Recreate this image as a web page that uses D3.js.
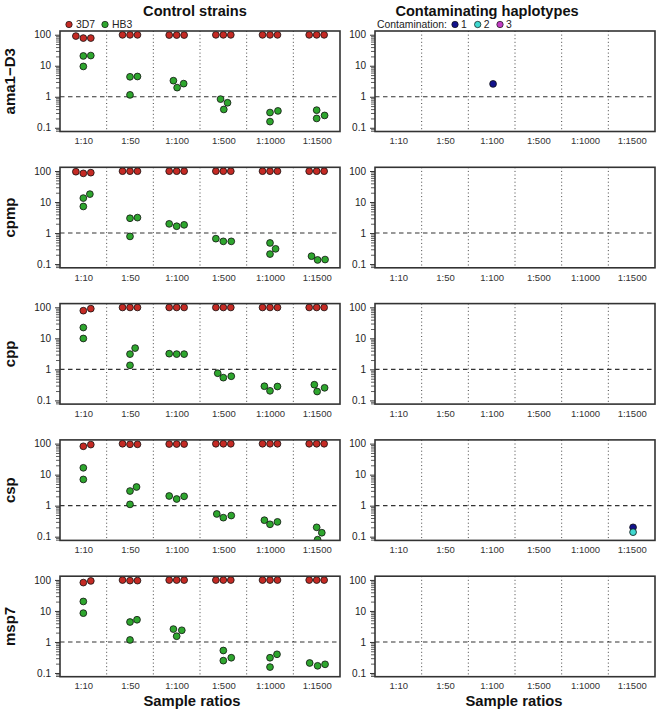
<!DOCTYPE html>
<html><head><meta charset="utf-8">
<script src="https://cdn.jsdelivr.net/npm/d3@7"></script>
<style>
body{margin:0;background:#fff;}
svg{display:block;font-family:"Liberation Sans",Arial,Helvetica,sans-serif;}
</style></head>
<body><svg id="chart" width="658" height="713"></svg>
<script>
// ---------- data ----------
const genes = ["ama1\u2212D3","cpmp","cpp","csp","msp7"];
const ratios = ["1:10","1:50","1:100","1:500","1:1000","1:1500"];
const panelTitles = ["Control strains","Contaminating haplotypes"];
const xTitle = "Sample ratios";
const yMajorTicks = [0.1,1,10,100];
const yTickLabels = ["0.1","1","10","100"];
const strainNames = ["3D7","HB3"];
const contamNames = ["1","2","3"];
const contamLabel = "Contamination:";

// each point: [ratio index, jitter (in category units), percentage]
const s3D7 = {
  "ama1\u2212D3": [[0,-.16,90.6],[0,0,78],[0,.16,78],[1,-.16,99],[1,0,99],[1,.16,99],[2,-.16,97.5],[2,0,97.5],[2,.16,97.5],[3,-.16,99],[3,0,99],[3,.16,99],[4,-.16,99],[4,0,99],[4,.16,99],[5,-.16,99],[5,0,99],[5,.16,99]],
  "cpmp": [[0,-.16,95],[0,0,84],[0,.16,88.5],[1,-.16,99],[1,0,99],[1,.16,99],[2,-.16,99],[2,0,99],[2,.16,99],[3,-.16,99],[3,0,99],[3,.16,99],[4,-.16,99],[4,0,99],[4,.16,99],[5,-.16,99],[5,0,99],[5,.16,99]],
  "cpp": [[0,0,78],[0,.16,90.6],[1,-.16,99],[1,0,99],[1,.16,99],[2,-.16,99],[2,0,99],[2,.16,99],[3,-.16,99],[3,0,99],[3,.16,99],[4,-.16,99],[4,0,99],[4,.16,99],[5,-.16,99],[5,0,99],[5,.16,99]],
  "csp": [[0,0,82],[0,.16,93],[1,-.16,99],[1,0,95],[1,.16,95],[2,-.16,97],[2,0,97],[2,.16,97],[3,-.16,99],[3,0,99],[3,.16,99],[4,-.16,99],[4,0,99],[4,.16,99],[5,-.16,99],[5,0,99],[5,.16,99]],
  "msp7": [[0,0,82],[0,.16,93],[1,-.16,99],[1,0,95],[1,.16,95],[2,-.16,99],[2,0,99],[2,.16,99],[3,-.16,99],[3,0,99],[3,.16,99],[4,-.16,99],[4,0,99],[4,.16,99],[5,-.16,99],[5,0,99],[5,.16,99]]
};
const sHB3 = {
  "ama1\u2212D3": [[0,0,20.7],[0,.16,21.3],[0,0,9.5],[1,0,4.4],[1,.16,4.5],[1,0,1.15],[2,-.07,3.3],[2,.01,1.97],[2,.15,2.65],[3,-.06,0.84],[3,.09,0.64],[3,.01,0.39],[4,0,0.31],[4,.17,0.35],[4,0,0.158],[5,0,0.37],[5,.17,0.25],[5,0,0.2]],
  "cpmp": [[0,0,13.4],[0,.14,18],[0,0,7.2],[1,0,3.0],[1,.16,3.15],[1,0,0.78],[2,-.16,1.98],[2,0,1.66],[2,.16,1.84],[3,-.16,0.66],[3,0,0.54],[3,.17,0.54],[4,0,0.48],[4,.12,0.31],[4,0,0.21],[5,-.11,0.18],[5,.02,0.136],[5,.18,0.14]],
  "cpp": [[0,0,22.3],[0,0,9.9],[1,0,3.1],[1,.11,4.85],[1,0,1.35],[2,-.16,3.2],[2,0,3.1],[2,.16,3.1],[3,-.12,0.75],[3,0,0.54],[3,.17,0.6],[4,-.12,0.286],[4,0,0.203],[4,.16,0.28],[5,-.05,0.32],[5,.01,0.193],[5,.17,0.254]],
  "csp": [[0,0,16.6],[0,0,7.0],[1,0,2.96],[1,.14,4.0],[1,0,1.1],[2,-.16,2.05],[2,0,1.64],[2,.16,2.0],[3,-.14,0.54],[3,0,0.41],[3,.17,0.48],[4,-.12,0.34],[4,0,0.25],[4,.16,0.3],[5,0,0.2],[5,.11,0.134],[5,.02,0.08]],
  "msp7": [[0,0,20.2],[0,0,8.5],[1,0,4.4],[1,.15,5.2],[1,0,1.16],[2,-.07,2.6],[2,0,1.53],[2,.11,2.38],[3,0,0.53],[3,0,0.25],[3,.17,0.31],[4,0,0.31],[4,.15,0.4],[4,0,0.155],[5,-.15,0.21],[5,.02,0.17],[5,.18,0.19]]
};
// contaminating haplotypes: [ratio index, jitter, percentage, haplotype index]
const contam = {
  "ama1\u2212D3": [[2,.03,2.6,0]],
  "cpmp": [],
  "cpp": [],
  "csp": [[5,.03,0.2,0],[5,.03,0.14,1]],
  "msp7": []
};

// ---------- style / layout ----------
const strainColors = ["#c42a24","#2ea62e"];
const contamColors = ["#12128c","#3fd8cf","#c23cc2"];
const cols = [{x0:60,x1:340},{x0:375,x1:655}];
const top0 = 31, step = 136.3, ph = 100.5;
const R = 3.4;

const svg = d3.select("#chart");
const defs = svg.append("defs");

function drawPanel(gi, ci){
  const gene = genes[gi];
  const {x0,x1} = cols[ci];
  const top = top0 + gi*step, bot = top + ph;
  const x = d3.scaleLinear().domain([0.5, ratios.length+0.5]).range([x0,x1]);
  const y = d3.scaleLog().domain([Math.pow(10,-1-0.12), Math.pow(10,2+0.12)]).range([bot, top]);
  const g = svg.append("g");
  const cid = "clip"+gi+"_"+ci;
  defs.append("clipPath").attr("id",cid).append("rect")
    .attr("x",x0).attr("y",top).attr("width",x1-x0).attr("height",ph);

  // vertical dotted separators
  g.selectAll("line.sep").data(d3.range(1,ratios.length)).enter().append("line")
    .attr("x1",d=>x(d+0.5)).attr("x2",d=>x(d+0.5)).attr("y1",top).attr("y2",bot)
    .attr("stroke","#444").attr("stroke-width",1).attr("stroke-dasharray","1,2.6");
  // dashed line at 1
  g.append("line").attr("x1",x0).attr("x2",x1).attr("y1",y(1)).attr("y2",y(1))
    .attr("stroke","#333").attr("stroke-width",1.1).attr("stroke-dasharray","4.5,3.5");

  // y axis minor ticks
  const [dlo,dhi] = y.domain();
  const minor = [];
  for(let e=-2;e<=2;e++) for(let m=2;m<=9;m++){const v=m*Math.pow(10,e); if(v>=dlo&&v<=dhi) minor.push(v);}
  const minAx = g.append("g").attr("transform",`translate(${x0},0)`)
    .call(d3.axisLeft(y).tickValues(minor).tickSize(4).tickFormat(""));
  minAx.select(".domain").remove();
  minAx.selectAll("line").attr("stroke","#333").attr("stroke-width",0.8);
  const majAx = g.append("g").attr("transform",`translate(${x0},0)`)
    .call(d3.axisLeft(y).tickValues(yMajorTicks).tickSize(5).tickPadding(4)
      .tickFormat((d,i)=>yTickLabels[i]));
  majAx.select(".domain").remove();
  majAx.selectAll("line").attr("stroke","#333").attr("stroke-width",1);
  majAx.selectAll("text").attr("font-size",10).attr("fill","#222")
    .attr("font-family","'Liberation Sans',Arial,sans-serif");

  // x labels
  const xAx = g.append("g").attr("transform",`translate(0,${bot})`)
    .call(d3.axisBottom(x).tickValues(d3.range(1,ratios.length+1)).tickSize(0).tickPadding(6)
      .tickFormat(d=>ratios[d-1]));
  xAx.select(".domain").remove();
  xAx.selectAll("text").attr("font-size",9.5).attr("fill","#333")
    .attr("font-family","'Liberation Sans',Arial,sans-serif");

  // points
  const pg = g.append("g").attr("clip-path",`url(#${cid})`);
  if(ci===0){
    [s3D7, sHB3].forEach((src,si)=>{
      pg.selectAll(null).data(src[gene]).enter().append("circle")
        .attr("cx",d=>x(d[0]+1+d[1])).attr("cy",d=>y(d[2])).attr("r",R)
        .attr("fill",strainColors[si]).attr("stroke","#111").attr("stroke-width",0.8);
    });
  } else {
    pg.selectAll(null).data(contam[gene]).enter().append("circle")
      .attr("cx",d=>x(d[0]+1+d[1])).attr("cy",d=>y(d[2])).attr("r",R)
      .attr("fill",d=>contamColors[d[3]]).attr("stroke","#111").attr("stroke-width",0.8);
  }
  // box
  g.append("rect").attr("x",x0).attr("y",top).attr("width",x1-x0).attr("height",ph)
    .attr("fill","none").attr("stroke","#333").attr("stroke-width",1.6);

  if(ci===0){
    svg.append("text").attr("transform",`translate(15,${top+ph/2}) rotate(-90)`)
      .attr("text-anchor","middle").attr("font-size",15).attr("font-weight","bold")
      .attr("fill","#111").text(gene);
  }
}
genes.forEach((g,gi)=>{drawPanel(gi,0);drawPanel(gi,1);});

// titles
svg.append("text").attr("x",195).attr("y",16).attr("text-anchor","middle")
  .attr("font-size",14.6).attr("font-weight","bold").attr("fill","#111").text(panelTitles[0]);
svg.append("text").attr("x",487).attr("y",16).attr("text-anchor","middle")
  .attr("font-size",14.6).attr("font-weight","bold").attr("fill","#111").text(panelTitles[1]);
[192,514].forEach(cx=>{
  svg.append("text").attr("x",cx).attr("y",706).attr("text-anchor","middle")
    .attr("font-size",14.8).attr("font-weight","bold").attr("fill","#111").text(xTitle);
});

// legends
const lg = svg.append("g").attr("font-size",10.4).attr("fill","#222");
[69,105].forEach((cx,i)=>{
  lg.append("circle").attr("cx",cx).attr("cy",24.5).attr("r",3.2).attr("fill",strainColors[i]).attr("stroke","#111").attr("stroke-width",0.7);
  lg.append("text").attr("x",cx+7).attr("y",28.3).text(strainNames[i]);
});
lg.append("text").attr("x",377).attr("y",28.3).text(contamLabel);
[455,477.7,500].forEach((cx,i)=>{
  lg.append("circle").attr("cx",cx).attr("cy",24.5).attr("r",3.2).attr("fill",contamColors[i]).attr("stroke","#111").attr("stroke-width",0.7);
  lg.append("text").attr("x",cx+6).attr("y",28.3).text(contamNames[i]);
});
</script></body></html>
